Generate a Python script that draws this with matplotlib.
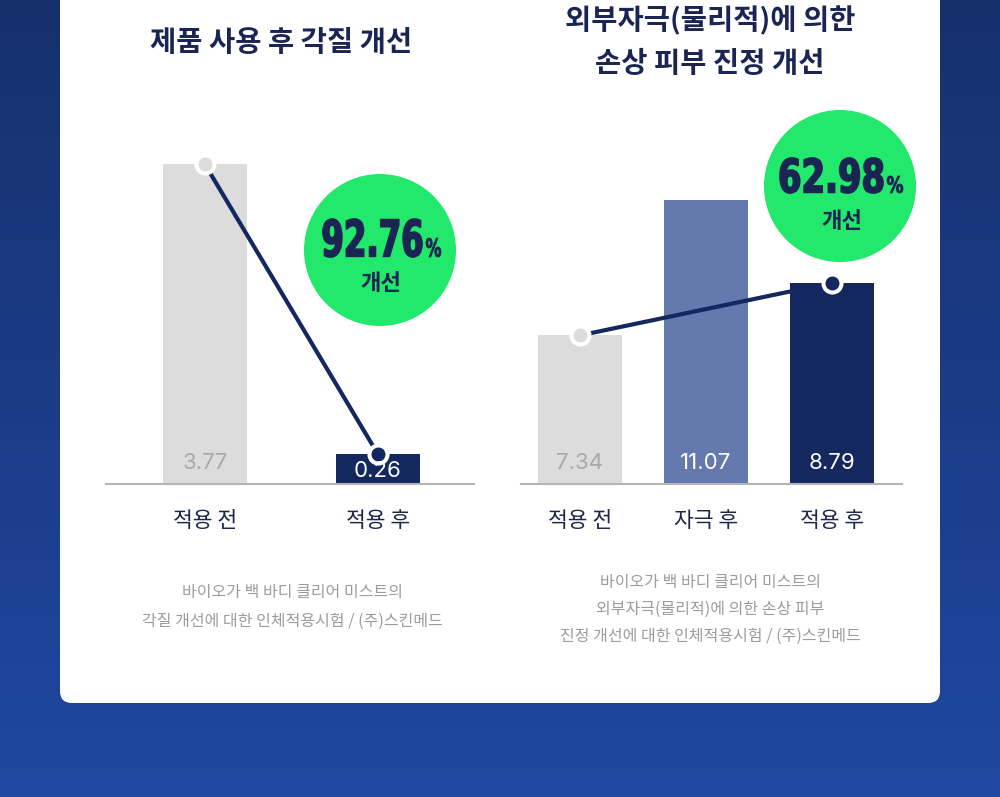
import numpy as np
import matplotlib
matplotlib.use("Agg")
import matplotlib.pyplot as plt
from matplotlib.colors import LinearSegmentedColormap
from matplotlib.patches import FancyBboxPatch, Circle, PathPatch
from matplotlib.textpath import TextPath
from matplotlib.font_manager import FontProperties
from matplotlib.transforms import Affine2D

plt.rcParams["font.family"] = ["Noto Sans CJK KR", "DejaVu Sans"]

# ---------------------------------------------------------------------------
# Data
# ---------------------------------------------------------------------------
left_title = ["제품 사용 후 각질 개선"]
left_categories = ["적용 전", "적용 후"]
left_values = [3.77, 0.26]
left_line_idx = [0, 1]
left_improvement = "92.76"
left_note = ["바이오가 백 바디 클리어 미스트의",
             "각질 개선에 대한 인체적용시험 / (주)스킨메드"]

right_title = ["외부자극(물리적)에 의한", "손상 피부 진정 개선"]
right_categories = ["적용 전", "자극 후", "적용 후"]
right_values = [7.34, 11.07, 8.79]
right_line_idx = [0, 2]
right_improvement = "62.98"
right_note = ["바이오가 백 바디 클리어 미스트의",
              "외부자극(물리적)에 의한 손상 피부",
              "진정 개선에 대한 인체적용시험 / (주)스킨메드"]

improve_word = "개선"

# ---------------------------------------------------------------------------
# Styles
# ---------------------------------------------------------------------------
W, H = 1000, 797
GRAY = "#dcdcdc"
SLATE = "#6479ad"
NAVY = "#14285f"
GREEN = "#22e86c"
TEXT_NAVY = "#1a2553"
NOTE_GRAY = "#9c9c9c"

left_colors = [GRAY, NAVY]
right_colors = [GRAY, SLATE, NAVY]
left_label_colors = ["#a9a9a9", "white"]
right_label_colors = ["#a9a9a9", "white", "white"]

fig = plt.figure(figsize=(W / 100, H / 100), dpi=100)

bg = fig.add_axes([0, 0, 1, 1])
bg.set_xlim(0, W)
bg.set_ylim(H, 0)
bg.axis("off")

cmap = LinearSegmentedColormap.from_list("bg", ["#16306c", "#1f48a2"])
bg.imshow(np.linspace(0, 1, 256)[:, None], extent=[0, W, H, 0],
          aspect="auto", cmap=cmap, zorder=0)
bg.add_patch(FancyBboxPatch((60, -40), 880, 743,
                            boxstyle="round,pad=0,rounding_size=12",
                            fc="white", ec="none", zorder=1))


def px_axes(x0, y0, x1, y1):
    return fig.add_axes([x0 / W, 1 - y1 / H, (x1 - x0) / W, (y1 - y0) / H])


def fitted_text(ax, s, box, color, stroke=1.3):
    """Squeeze a bold string into a pixel box (condensed headline look)."""
    x0, y0, x1, y1 = box
    tp = TextPath((0, 0), s, size=100,
                  prop=FontProperties(family="DejaVu Sans", weight="bold"))
    ext = tp.get_extents()
    tr = (Affine2D().translate(-ext.x0, -ext.y0)
          .scale((x1 - x0) / ext.width, -(y1 - y0) / ext.height)
          .translate(x0, y1))
    ax.add_patch(PathPatch(tr.transform_path(tp), fc=color, ec=color,
                           lw=stroke, joinstyle="miter", zorder=3))


def draw_chart(ax, categories, values, colors, label_colors, line_idx,
               ylim, xlim, width):
    x = np.arange(len(values))
    lo, hi = ylim
    ax.set_xlim(*xlim)
    ax.set_ylim(*ylim)
    ax.patch.set_alpha(0)
    ax.bar(x, [v - lo for v in values], bottom=lo, width=width,
           color=colors, zorder=2)
    ax.plot(x[line_idx], [values[i] for i in line_idx], color=NAVY, lw=3,
            solid_capstyle="round", zorder=3, clip_on=False)
    for i in line_idx:
        ax.plot(x[i], values[i], "o", ms=13, mfc=colors[i], mec="white",
                mew=2.9, zorder=6, clip_on=False)
    # value label sits near the bar foot, or mid-bar when the bar is short
    ax_h_pt = ax.get_position().height * fig.get_figheight() * 72
    for i, v in enumerate(values):
        half_bar = (v - lo) / (hi - lo) * ax_h_pt / 2
        ax.annotate(f"{v:.2f}", xy=(i, lo), xytext=(0, min(15, half_bar - 1)),
                    textcoords="offset points", ha="center", va="center",
                    fontsize=16, color=label_colors[i], family="Inter",
                    zorder=7)
    for side in ["top", "left", "right"]:
        ax.spines[side].set_visible(False)
    ax.spines["bottom"].set_color("#b5b5b5")
    ax.spines["bottom"].set_linewidth(1.5)
    ax.set_yticks([])
    ax.set_xticks(x, categories, fontsize=15.5, color="#1d2548")
    ax.tick_params(axis="x", length=0, pad=26.5)
    for lab in ax.get_xticklabels():
        lab.set_va("center")


ax_l = px_axes(106, 100, 474, 484)
draw_chart(ax_l, left_categories, left_values, left_colors, left_label_colors,
           left_line_idx, (-0.10, 4.55), (-0.572, 1.555), 0.486)

ax_r = px_axes(521, 100, 902, 484)
draw_chart(ax_r, right_categories, right_values, right_colors,
           right_label_colors, right_line_idx, (3.25, 13.82),
           (-0.468, 2.556), 0.667)

# titles
for k, line in enumerate(left_title):
    bg.text(281, 43 + 42 * k, line, ha="center", va="center", fontsize=20.5,
            weight="bold", color=TEXT_NAVY, zorder=3)
for k, line in enumerate(right_title):
    bg.text(710, 21 + 43 * k, line, ha="center", va="center", fontsize=20.5,
            weight="bold", color=TEXT_NAVY, zorder=3)

# notes
for k, line in enumerate(left_note):
    bg.text(292, 593 + 28 * k, line, ha="center", va="center", fontsize=11.5,
            color=NOTE_GRAY, zorder=3)
for k, line in enumerate(right_note):
    bg.text(710, 583 + 26.5 * k, line, ha="center", va="center",
            fontsize=11.5, color=NOTE_GRAY, zorder=3)

# improvement badges
bg.add_patch(Circle((380, 250), 76, fc=GREEN, ec="none", zorder=2))
fitted_text(bg, left_improvement, (323, 219, 422, 257), TEXT_NAVY)
fitted_text(bg, "%", (426, 238, 441, 257), TEXT_NAVY, stroke=0.6)
bg.text(381, 283, improve_word, ha="center", va="center", fontsize=16,
        weight="bold", color=TEXT_NAVY, zorder=3)

bg.add_patch(Circle((840, 186), 76, fc=GREEN, ec="none", zorder=2))
fitted_text(bg, right_improvement, (780, 158, 883, 193), TEXT_NAVY)
fitted_text(bg, "%", (887, 176, 903, 193), TEXT_NAVY, stroke=0.6)
bg.text(842, 221, improve_word, ha="center", va="center", fontsize=16,
        weight="bold", color=TEXT_NAVY, zorder=3)

fig.savefig("out.png", dpi=100)
